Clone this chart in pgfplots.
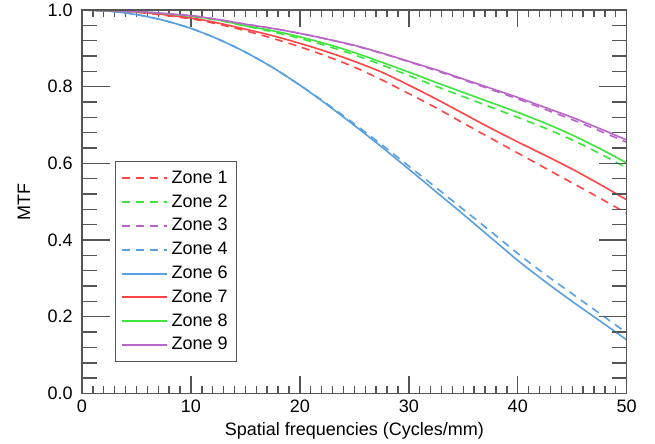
\documentclass[border=0pt]{standalone}
\usepackage{fontspec}
\setmainfont{Liberation Sans}
\usepackage{pgfplots}
\pgfplotsset{compat=1.18}
\definecolor{zred}{RGB}{255,70,70}
\definecolor{zgreen}{RGB}{60,230,60}
\definecolor{zpurple}{RGB}{185,100,200}
\definecolor{zblue}{RGB}{90,160,225}
\definecolor{axgray}{RGB}{85,85,85}
\begin{document}
\fontsize{9}{11}\selectfont
\begin{tikzpicture}
\pgfplotsset{
  common/.style={
    width=272.35pt, height=191.75pt, scale only axis,
    at={(0,0)}, anchor=south west,
    xmin=0, xmax=50, ymin=0, ymax=1,
    axis line style={axgray, line width=0.7pt},
    tick style={axgray, line width=0.7pt},
    tick align=inside,
    /pgf/number format/assume math mode=true,
    tick label style={font=\fontsize{9}{11}\selectfont},
    label style={font=\fontsize{9}{11}\selectfont},
  },
  zd/.style={line width=0.8pt, dash pattern=on 4pt off 3pt},
  zs/.style={line width=0.8pt},
}
\begin{axis}[common,
  xtick={0,10,...,50}, minor x tick num=9,
  ytick=\empty,
  major tick length=8.5pt, minor tick length=3.5pt,
  xlabel={Spatial frequencies (Cycles/mm)},
  xlabel style={at={(axis description cs:0.5,0)}, anchor=center, yshift=-18.75pt},
  legend style={at={(0.061,0.082)}, anchor=south west, draw=axgray,
    font=\fontsize{9}{11}\selectfont, row sep=0.3pt, inner sep=2.5pt},
  legend cell align=left,
  legend image code/.code={\draw[#1, line width=1pt] (0pt,0pt) -- (22.5pt,0pt);},
]
% Zone 1
\addplot[zd, zred, smooth] coordinates {
 (0,1.000) (5,0.994) (10,0.977) (12.5,0.963) (15,0.946) (17.5,0.926) (20,0.904)
 (22.5,0.879) (25,0.851) (27.5,0.818) (30,0.782) (32.5,0.745) (35,0.705)
 (37.5,0.666) (40,0.627) (42.5,0.588) (45,0.549) (47.5,0.510) (50,0.470)};
\addlegendentry{Zone 1}
% Zone 2
\addplot[zd, zgreen, smooth] coordinates {
 (0,1.000) (5,0.996) (10,0.983) (12.5,0.973) (15,0.958) (17.5,0.943) (20,0.926)
 (22.5,0.906) (25,0.883) (27.5,0.857) (30,0.829) (32.5,0.801) (35,0.774)
 (37.5,0.747) (40,0.720) (42.5,0.692) (45,0.661) (47.5,0.626) (50,0.588)};
\addlegendentry{Zone 2}
% Zone 3
\addplot[zd, zpurple, smooth] coordinates {
 (0,1.000) (5,0.996) (10,0.985) (12.5,0.975) (15,0.963) (17.5,0.952) (20,0.939)
 (22.5,0.924) (25,0.907) (27.5,0.887) (30,0.865) (32.5,0.842) (35,0.818)
 (37.5,0.793) (40,0.768) (42.5,0.741) (45,0.714) (47.5,0.685) (50,0.655)};
\addlegendentry{Zone 3}
% Zone 4
\addplot[zd, zblue, smooth] coordinates {
 (0,1.000) (2.5,0.997) (5,0.988) (7.5,0.973) (10,0.952) (12.5,0.924) (15,0.890)
 (17.5,0.850) (20,0.804) (22.5,0.755) (25,0.703) (27.5,0.649) (30,0.593)
 (32.5,0.537) (35,0.480) (37.5,0.423) (40,0.365) (42.5,0.311) (45,0.260)
 (47.5,0.209) (50,0.158)};
\addlegendentry{Zone 4}
% Zone 6
\addplot[zs, zblue, smooth] coordinates {
 (0,1.000) (2.5,0.997) (5,0.988) (7.5,0.973) (10,0.952) (12.5,0.924) (15,0.890)
 (17.5,0.850) (20,0.804) (22.5,0.753) (25,0.699) (27.5,0.643) (30,0.585)
 (32.5,0.526) (35,0.467) (37.5,0.407) (40,0.347) (42.5,0.292) (45,0.240)
 (47.5,0.190) (50,0.140)};
\addlegendentry{Zone 6}
% Zone 7
\addplot[zs, zred, smooth] coordinates {
 (0,1.000) (5,0.995) (10,0.979) (12.5,0.966) (15,0.950) (17.5,0.933) (20,0.913)
 (22.5,0.891) (25,0.866) (27.5,0.838) (30,0.804) (32.5,0.768) (35,0.730)
 (37.5,0.692) (40,0.656) (42.5,0.621) (45,0.585) (47.5,0.546) (50,0.505)};
\addlegendentry{Zone 7}
% Zone 8
\addplot[zs, zgreen, smooth] coordinates {
 (0,1.000) (5,0.996) (10,0.984) (12.5,0.974) (15,0.959) (17.5,0.946) (20,0.930)
 (22.5,0.911) (25,0.889) (27.5,0.864) (30,0.838) (32.5,0.811) (35,0.785)
 (37.5,0.759) (40,0.733) (42.5,0.705) (45,0.674) (47.5,0.639) (50,0.601)};
\addlegendentry{Zone 8}
% Zone 9
\addplot[zs, zpurple, smooth] coordinates {
 (0,1.000) (5,0.996) (10,0.985) (12.5,0.975) (15,0.963) (17.5,0.952) (20,0.939)
 (22.5,0.924) (25,0.908) (27.5,0.888) (30,0.866) (32.5,0.844) (35,0.820)
 (37.5,0.796) (40,0.772) (42.5,0.746) (45,0.720) (47.5,0.691) (50,0.661)};
\addlegendentry{Zone 9}
\end{axis}
% second axis: longer y ticks as in the original
\begin{axis}[common,
  xtick=\empty,
  ytick={0,0.2,...,1}, minor y tick num=4,
  major tick length=14pt, minor tick length=7.5pt,
  yticklabel style={xshift=-1.5pt, /pgf/number format/.cd, fixed, fixed zerofill, precision=1},
  ylabel={MTF},
  ylabel style={at={(axis description cs:-0.1065,0.5)}, anchor=center},
]
\end{axis}
\pgfresetboundingbox
\path[use as bounding box] (-41pt,-25.25pt) rectangle (286.5pt,196.75pt);
\end{tikzpicture}
\end{document}
